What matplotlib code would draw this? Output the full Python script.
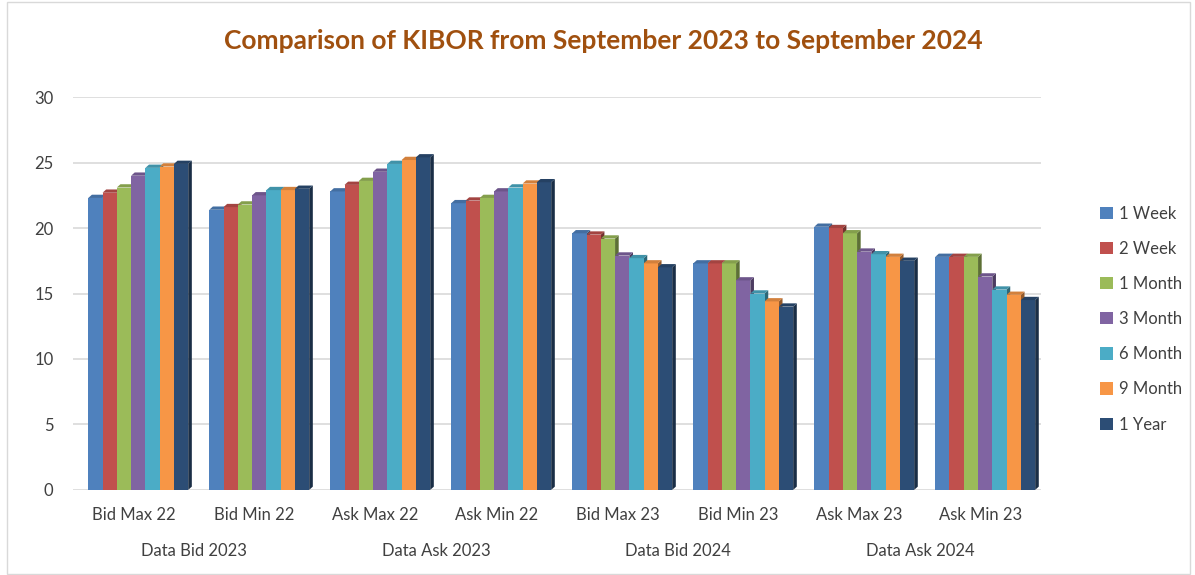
import numpy as np
import matplotlib.pyplot as plt
from matplotlib.patches import Polygon, Rectangle
from matplotlib.colors import to_rgb

plt.rcParams['font.family'] = ['Lato', 'DejaVu Sans']

# categories
groups = ["Bid Max 22", "Bid Min 22", "Ask Max 22", "Ask Min 22",
          "Bid Max 23", "Bid Min 23", "Ask Max 23", "Ask Min 23"]
outer = ["Data Bid 2023", "Data Ask 2023", "Data Bid 2024", "Data Ask 2024"]
tenors = ["1 Week", "2 Week", "1 Month", "3 Month", "6 Month", "9 Month", "1 Year"]
colors = ["#4F81BD", "#C0504D", "#9BBB59", "#8064A2", "#4BACC6", "#F79646", "#2C4D75"]

# values, one list per tenor (8 groups each)
week1  = [22.3, 21.4, 22.8, 21.9, 19.6, 17.3, 20.1, 17.8]
week2  = [22.7, 21.6, 23.3, 22.1, 19.5, 17.3, 20.0, 17.8]
month1 = [23.1, 21.8, 23.6, 22.3, 19.2, 17.3, 19.6, 17.8]
month3 = [24.0, 22.5, 24.3, 22.8, 17.9, 16.0, 18.2, 16.3]
month6 = [24.6, 22.9, 24.9, 23.1, 17.7, 15.0, 18.0, 15.3]
month9 = [24.7, 22.9, 25.2, 23.4, 17.3, 14.4, 17.8, 14.9]
year1  = [24.9, 23.0, 25.4, 23.5, 17.0, 14.0, 17.5, 14.5]
series = [week1, week2, month1, month3, month6, month9, year1]

fig = plt.figure(figsize=(11.95, 5.75), dpi=100)
ax = fig.add_axes([0.061, 0.148, 0.81, 0.683])

n = len(tenors)
bw = 0.118
x = np.arange(len(groups))
dx, dy = 0.03, 0.25  # small fake depth for the 3d look


def shade(c, f):
    r, g, b = to_rgb(c)
    return (r * f, g * f, b * f)


for i, (vals, col) in enumerate(zip(series, colors)):
    xs = x - n * bw / 2 + i * bw + 0.04
    ax.bar(xs, vals, width=bw, align='edge', color=col, label=tenors[i], zorder=3)
    for x0, h in zip(xs, vals):
        x1 = x0 + bw
        top = Polygon([(x0, h), (x1, h), (x1 + dx, h + dy), (x0 + dx, h + dy)],
                      closed=True, color=shade(col, 0.85), zorder=3, lw=0)
        side = Polygon([(x1, 0), (x1, h), (x1 + dx, h + dy), (x1 + dx, dy)],
                       closed=True, color=shade(col, 0.6), zorder=2.9, lw=0)
        ax.add_patch(top)
        ax.add_patch(side)

ax.set_xlim(-0.5, len(groups) - 0.5)
ax.set_ylim(0, 30)
ax.set_yticks(range(0, 31, 5))
ax.yaxis.grid(True, color="#D9D9D9", lw=1.2, zorder=0)
ax.set_axisbelow(True)
for s in ax.spines.values():
    s.set_visible(False)
ax.tick_params(axis='both', length=0, labelsize=12, colors="#404040", pad=14)
ax.set_xticks(x)
ax.set_xticklabels(groups)
ax.tick_params(axis='x', pad=12)

for j, lab in enumerate(outer):
    ax.text(2 * j + 0.5, -0.155, lab, transform=ax.get_xaxis_transform(),
            ha='center', va='center', fontsize=12, color="#404040")

fig.text(0.505, 0.928, "Comparison of KIBOR from September 2023 to September 2024",
         ha='center', va='center', fontsize=19, fontweight='bold', color="#A0500F")

leg = ax.legend(loc='center left', bbox_to_anchor=(1.046, 0.435), frameon=False,
                fontsize=12, labelspacing=1.15, handlelength=0.75, handleheight=0.75,
                handletextpad=0.35)
for t in leg.get_texts():
    t.set_color("#404040")

fig.patches.append(Rectangle((0.006, 0.002), 0.99, 0.995, transform=fig.transFigure,
                             fill=False, edgecolor="#D9D9D9", lw=1))

fig.savefig("out.png", dpi=100)
